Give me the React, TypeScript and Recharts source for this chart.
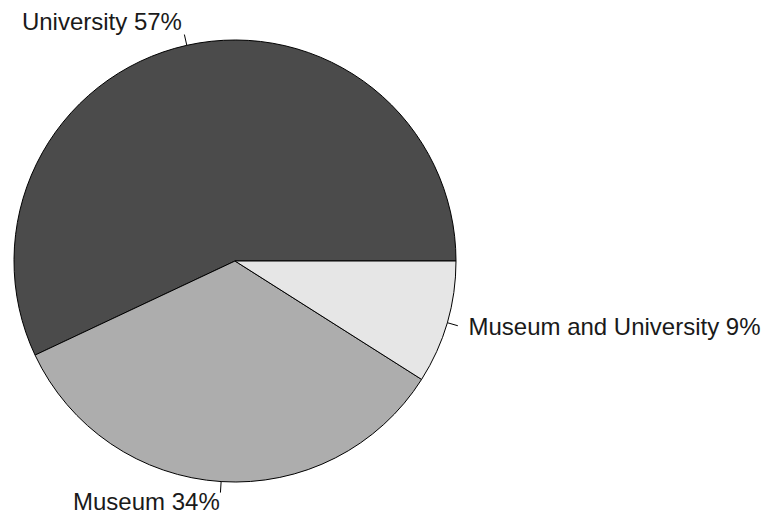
import React from 'react';
import { PieChart, Pie, Cell } from 'recharts';

const categories = ['University', 'Museum', 'Museum and University'];
const shares = [57, 34, 9];
const sliceColors = ['#4b4b4b', '#adadad', '#e6e6e6'];

const data = categories.map((name, i) => ({ name, value: shares[i] }));

const RADIAN = Math.PI / 180;

// R-style pie label: short tick from the rim, text at 1.1 * radius
const renderLabel = (props: any) => {
  const { cx, cy, midAngle, outerRadius, name, value } = props;
  const c = Math.cos(-midAngle * RADIAN);
  const s = Math.sin(-midAngle * RADIAN);
  const x1 = cx + outerRadius * c;
  const y1 = cy + outerRadius * s;
  const x2 = cx + outerRadius * 1.05 * c;
  const y2 = cy + outerRadius * 1.05 * s;
  const tx = cx + outerRadius * 1.1 * c;
  const ty = cy + outerRadius * 1.1 * s;
  return (
    <g>
      <line x1={x1} y1={y1} x2={x2} y2={y2} stroke="#000" strokeWidth={1} />
      <text
        x={tx}
        y={ty - 2}
        textAnchor={c > 0 ? 'start' : 'end'}
        dominantBaseline="central"
        fill="#1a1a1a"
        fontSize={24}
        fontFamily="'Liberation Sans', Arial, sans-serif"
      >
        {`${name} ${value}%`}
      </text>
    </g>
  );
};

const App: React.FC = () => {
  return (
    <div style={{ position: 'absolute', left: 0, top: 0, background: '#fff' }}>
      <PieChart width={769} height={517} margin={{ top: 0, right: 0, bottom: 0, left: 0 }}>
        <Pie
          data={data}
          dataKey="value"
          nameKey="name"
          cx={235}
          cy={261}
          outerRadius={221}
          startAngle={0}
          endAngle={360}
          stroke="#000"
          strokeWidth={1}
          label={renderLabel}
          labelLine={false}
          isAnimationActive={false}
        >
          {data.map((d, i) => (
            <Cell key={d.name} fill={sliceColors[i]} />
          ))}
        </Pie>
      </PieChart>
    </div>
  );
};

export default App;
